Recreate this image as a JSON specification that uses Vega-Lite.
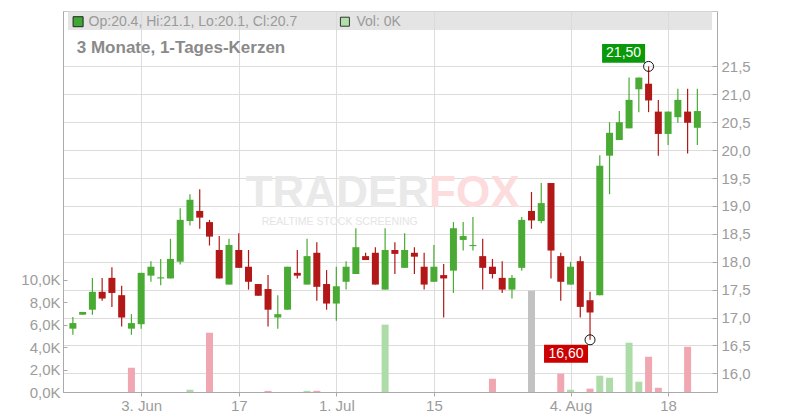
{
  "$schema": "https://vega.github.io/schema/vega-lite/v6.json",
  "width": 654,
  "height": 381,
  "autosize": "none",
  "padding": {"left": 63, "top": 11, "right": 83, "bottom": 28},
  "background": "white",
  "config": {
    "font": "Liberation Sans",
    "view": {"stroke": "#c8c8c8", "strokeWidth": 1},
    "axis": {"labelFont": "Liberation Sans", "labelFontSize": 15, "labelColor": "#9c9c9c", "domainColor": "#aaaaaa", "tickColor": "#aaaaaa", "gridColor": "#dcdcdc", "title": null}
  },
  "datasets": {
    "candles": [
      {"i":0,"o":16.80,"h":17.01,"l":16.69,"c":16.90},
      {"i":1,"o":17.05,"h":17.10,"l":17.05,"c":17.10},
      {"i":2,"o":17.14,"h":17.71,"l":17.05,"c":17.46},
      {"i":3,"o":17.46,"h":17.71,"l":17.30,"c":17.34},
      {"i":4,"o":17.71,"h":17.90,"l":17.19,"c":17.44},
      {"i":5,"o":17.40,"h":17.57,"l":16.84,"c":17.00},
      {"i":6,"o":16.80,"h":17.06,"l":16.69,"c":16.90},
      {"i":7,"o":16.88,"h":17.80,"l":16.80,"c":17.80},
      {"i":8,"o":17.75,"h":18.01,"l":17.64,"c":17.91},
      {"i":9,"o":17.70,"h":18.05,"l":17.58,"c":17.72},
      {"i":10,"o":17.70,"h":18.41,"l":17.70,"c":18.05},
      {"i":11,"o":18.00,"h":18.96,"l":17.95,"c":18.75},
      {"i":12,"o":18.73,"h":19.21,"l":18.65,"c":19.11},
      {"i":13,"o":18.91,"h":19.30,"l":18.59,"c":18.79},
      {"i":14,"o":18.71,"h":18.75,"l":18.29,"c":18.45},
      {"i":15,"o":18.21,"h":18.46,"l":17.70,"c":17.70},
      {"i":16,"o":17.59,"h":18.41,"l":17.59,"c":18.30},
      {"i":17,"o":18.21,"h":18.51,"l":17.89,"c":17.89},
      {"i":18,"o":17.91,"h":18.21,"l":17.50,"c":17.64},
      {"i":19,"o":17.60,"h":17.60,"l":17.39,"c":17.39},
      {"i":20,"o":17.51,"h":17.76,"l":16.84,"c":17.14},
      {"i":21,"o":17.00,"h":17.40,"l":16.80,"c":17.06},
      {"i":22,"o":17.14,"h":17.91,"l":17.14,"c":17.91},
      {"i":23,"o":17.80,"h":18.21,"l":17.70,"c":17.75},
      {"i":24,"o":17.59,"h":18.41,"l":17.59,"c":18.10},
      {"i":25,"o":18.16,"h":18.35,"l":17.30,"c":17.55},
      {"i":26,"o":17.60,"h":17.85,"l":17.14,"c":17.25},
      {"i":27,"o":17.25,"h":17.91,"l":16.94,"c":17.56},
      {"i":28,"o":17.64,"h":18.01,"l":17.50,"c":17.91},
      {"i":29,"o":17.78,"h":18.60,"l":17.78,"c":18.26},
      {"i":30,"o":18.10,"h":18.16,"l":18.03,"c":18.03},
      {"i":31,"o":18.16,"h":18.26,"l":17.59,"c":17.59},
      {"i":32,"o":17.50,"h":18.60,"l":17.50,"c":18.21},
      {"i":33,"o":18.21,"h":18.35,"l":17.78,"c":18.14},
      {"i":34,"o":17.89,"h":18.51,"l":17.89,"c":18.21},
      {"i":35,"o":18.16,"h":18.26,"l":17.78,"c":18.09},
      {"i":36,"o":17.91,"h":18.16,"l":17.50,"c":17.59},
      {"i":37,"o":17.64,"h":18.30,"l":17.64,"c":17.91},
      {"i":38,"o":17.76,"h":17.96,"l":17.00,"c":17.70},
      {"i":39,"o":17.84,"h":18.71,"l":17.44,"c":18.60},
      {"i":40,"o":18.39,"h":18.71,"l":18.20,"c":18.46},
      {"i":41,"o":18.28,"h":18.80,"l":18.20,"c":18.30},
      {"i":42,"o":18.10,"h":18.41,"l":17.50,"c":17.89},
      {"i":43,"o":17.91,"h":18.05,"l":17.70,"c":17.78},
      {"i":44,"o":17.71,"h":18.01,"l":17.44,"c":17.50},
      {"i":45,"o":17.50,"h":17.76,"l":17.34,"c":17.71},
      {"i":46,"o":17.89,"h":18.80,"l":17.84,"c":18.75},
      {"i":47,"o":18.91,"h":19.25,"l":18.59,"c":18.74},
      {"i":48,"o":18.73,"h":19.41,"l":18.69,"c":19.05},
      {"i":49,"o":19.41,"h":19.41,"l":17.70,"c":18.20},
      {"i":50,"o":18.10,"h":18.16,"l":17.30,"c":17.64},
      {"i":51,"o":17.59,"h":18.00,"l":17.59,"c":17.91},
      {"i":52,"o":18.01,"h":18.10,"l":17.00,"c":17.19},
      {"i":53,"o":17.31,"h":17.46,"l":16.60,"c":17.09},
      {"i":54,"o":17.40,"h":19.91,"l":17.40,"c":19.72},
      {"i":55,"o":19.90,"h":20.50,"l":19.21,"c":20.31},
      {"i":56,"o":20.18,"h":20.70,"l":20.18,"c":20.50},
      {"i":57,"o":20.39,"h":21.30,"l":20.39,"c":20.90},
      {"i":58,"o":21.09,"h":21.30,"l":20.68,"c":21.30},
      {"i":59,"o":21.19,"h":21.50,"l":20.68,"c":20.89},
      {"i":60,"o":20.69,"h":20.90,"l":19.90,"c":20.29},
      {"i":61,"o":20.29,"h":20.69,"l":20.09,"c":20.69},
      {"i":62,"o":20.59,"h":21.10,"l":20.49,"c":20.90},
      {"i":63,"o":20.69,"h":21.10,"l":19.94,"c":20.49},
      {"i":64,"o":20.40,"h":21.10,"l":20.09,"c":20.70}
    ],
    "vol": [
      {"i":6,"v":2160,"d":"down"},
      {"i":12,"v":200,"d":"up"},
      {"i":14,"v":5280,"d":"down"},
      {"i":20,"v":100,"d":"down"},
      {"i":24,"v":100,"d":"up"},
      {"i":25,"v":100,"d":"down"},
      {"i":32,"v":6000,"d":"up"},
      {"i":43,"v":1180,"d":"down"},
      {"i":47,"v":9020,"d":"flat"},
      {"i":50,"v":1630,"d":"down"},
      {"i":51,"v":200,"d":"up"},
      {"i":53,"v":300,"d":"down"},
      {"i":54,"v":1450,"d":"up"},
      {"i":55,"v":1270,"d":"up"},
      {"i":57,"v":4390,"d":"up"},
      {"i":58,"v":920,"d":"up"},
      {"i":59,"v":3140,"d":"down"},
      {"i":60,"v":380,"d":"down"},
      {"i":63,"v":4030,"d":"down"}
    ],
    "ext": [
      {"i":59,"p":21.5,"t":"21,50","k":"hi"},
      {"i":53,"p":16.6,"t":"16,60","k":"lo"}
    ]
  },
  "layer": [
    {
      "data": {"name": "vol"},
      "mark": {"type": "bar", "size": 7},
      "encoding": {
        "x": {"field": "i", "type": "quantitative", "scale": {"domain": [-0.5, 65.5], "nice": false, "zero": false},
          "axis": {"values": [7,17,27,37,51,61], "tickCount": 6, "labelExpr": "datum.value==7?'3. Jun':datum.value==17?'17':datum.value==27?'1. Jul':datum.value==37?'15':datum.value==51?'4. Aug':'18'", "grid": true, "tickSize": 4, "labelPadding": 2, "title": null}},
        "y": {"field": "v", "type": "quantitative", "scale": {"domain": [0, 33930], "nice": false, "zero": true},
          "axis": {"orient": "left", "values": [0,2000,4000,6000,8000,10000], "tickCount": 6, "labelExpr": "replace(format(datum.value/1000, '.1f'), '.', ',') + 'K'", "grid": false, "tickSize": -4, "labelPadding": 7, "title": null}},
        "color": {"field": "d", "type": "nominal", "scale": {"domain": ["up","down","flat"], "range": ["#aedca8","#f0a7b1","#c2c2c2"]}, "legend": null}
      }
    },
    {
      "layer": [
        {
          "data": {"values": [{}]},
          "mark": {"type": "rect", "color": "#dadada", "opacity": 0.72},
          "encoding": {
            "x": {"datum": -0.5, "type": "quantitative"},
            "x2": {"datum": 65.5},
            "y": {"datum": 22.152, "type": "quantitative"},
            "y2": {"datum": 22.493}
          }
        },
        {
          "data": {"values": [{}]},
          "mark": {"type": "text", "text": "TRADER", "align": "right", "baseline": "alphabetic", "fontSize": 44, "fontWeight": "bold", "color": "#e9e9e9"},
          "encoding": {"x": {"datum": 36.5, "type": "quantitative"}, "y": {"datum": 18.98, "type": "quantitative"}}
        },
        {
          "data": {"values": [{}]},
          "mark": {"type": "text", "text": "FOX", "align": "left", "baseline": "alphabetic", "fontSize": 44, "fontWeight": "bold", "color": "#fcdcdc"},
          "encoding": {"x": {"datum": 36.5, "type": "quantitative"}, "y": {"datum": 18.98, "type": "quantitative"}}
        },
        {
          "data": {"values": [{}]},
          "mark": {"type": "text", "text": "REALTIME STOCK SCREENING", "align": "center", "baseline": "middle", "fontSize": 10.5, "color": "#e4e4e4"},
          "encoding": {"x": {"datum": 27.35, "type": "quantitative"}, "y": {"datum": 18.72, "type": "quantitative"}}
        },
        {
          "data": {"values": [{}]},
          "mark": {"type": "point", "shape": "square", "size": 100, "filled": true, "fill": "#3ea832", "stroke": "#222222", "strokeWidth": 1, "opacity": 1},
          "encoding": {"x": {"datum": 0.535, "type": "quantitative"}, "y": {"datum": 22.301, "type": "quantitative"}}
        },
        {
          "data": {"values": [{}]},
          "mark": {"type": "point", "shape": "square", "size": 81, "filled": true, "fill": "#b1dfa9", "stroke": "#333333", "strokeWidth": 1, "opacity": 1},
          "encoding": {"x": {"datum": 27.88, "type": "quantitative"}, "y": {"datum": 22.301, "type": "quantitative"}}
        },
        {
          "data": {"values": [{}]},
          "mark": {"type": "text", "text": "Op:20.4, Hi:21.1, Lo:20.1, Cl:20.7", "align": "left", "baseline": "middle", "fontSize": 14, "color": "#9a9a9a"},
          "encoding": {"x": {"datum": 1.61, "type": "quantitative"}, "y": {"datum": 22.301, "type": "quantitative"}}
        },
        {
          "data": {"values": [{}]},
          "mark": {"type": "text", "text": "Vol: 0K", "align": "left", "baseline": "middle", "fontSize": 14, "color": "#9a9a9a"},
          "encoding": {"x": {"datum": 29.06, "type": "quantitative"}, "y": {"datum": 22.301, "type": "quantitative"}}
        },
        {
          "data": {"values": [{}]},
          "mark": {"type": "text", "text": "3 Monate, 1-Tages-Kerzen", "align": "left", "baseline": "middle", "fontSize": 17, "fontWeight": "bold", "color": "#8a8a8a"},
          "encoding": {"x": {"datum": 0.4, "type": "quantitative"}, "y": {"datum": 21.83, "type": "quantitative"}}
        },
        {
          "data": {"name": "candles"},
          "mark": {"type": "rule", "strokeWidth": 1.2},
          "encoding": {
            "x": {"field": "i", "type": "quantitative", "scale": {"domain": [-0.5, 65.5], "nice": false, "zero": false}},
            "y": {"field": "l", "type": "quantitative", "scale": {"domain": [15.665, 22.493], "nice": false, "zero": false},
              "axis": {"orient": "right", "values": [16,16.5,17,17.5,18,18.5,19,19.5,20,20.5,21,21.5], "tickCount": 12, "labelExpr": "replace(format(datum.value, '.1f'), '.', ',')", "grid": true, "tickSize": -5, "labelPadding": 9, "labelOverlap": false, "title": null}},
            "y2": {"field": "h"},
            "color": {"condition": {"test": "datum.c >= datum.o", "value": "#49ab33"}, "value": "#b31818"}
          }
        },
        {
          "data": {"name": "candles"},
          "mark": {"type": "bar", "size": 7},
          "encoding": {
            "x": {"field": "i", "type": "quantitative"},
            "y": {"field": "o", "type": "quantitative"},
            "y2": {"field": "c"},
            "color": {"condition": {"test": "datum.c >= datum.o", "value": "#49ab33"}, "value": "#b31818"}
          }
        },
        {
          "data": {"name": "ext"},
          "transform": [{"filter": "datum.k == 'hi'"}],
          "mark": {"type": "point", "shape": "M-1,-0.44H1V0.44H-1Z", "size": 1849, "filled": true, "fill": "#0a990a", "strokeWidth": 0, "opacity": 1, "xOffset": -25, "yOffset": -13},
          "encoding": {"x": {"field": "i", "type": "quantitative"}, "y": {"field": "p", "type": "quantitative"}}
        },
        {
          "data": {"name": "ext"},
          "transform": [{"filter": "datum.k == 'hi'"}],
          "mark": {"type": "text", "dx": -25, "dy": -13, "align": "center", "baseline": "middle", "fontSize": 14, "color": "white"},
          "encoding": {"x": {"field": "i", "type": "quantitative"}, "y": {"field": "p", "type": "quantitative"}, "text": {"field": "t"}}
        },
        {
          "data": {"name": "ext"},
          "transform": [{"filter": "datum.k == 'lo'"}],
          "mark": {"type": "point", "shape": "M-1,-0.41H1V0.41H-1Z", "size": 1936, "filled": true, "fill": "#cc0000", "strokeWidth": 0, "opacity": 1, "xOffset": -24, "yOffset": 14},
          "encoding": {"x": {"field": "i", "type": "quantitative"}, "y": {"field": "p", "type": "quantitative"}}
        },
        {
          "data": {"name": "ext"},
          "transform": [{"filter": "datum.k == 'lo'"}],
          "mark": {"type": "text", "dx": -24, "dy": 14, "align": "center", "baseline": "middle", "fontSize": 14, "color": "white"},
          "encoding": {"x": {"field": "i", "type": "quantitative"}, "y": {"field": "p", "type": "quantitative"}, "text": {"field": "t"}}
        },
        {
          "data": {"name": "ext"},
          "mark": {"type": "point", "shape": "circle", "size": 100, "filled": false, "stroke": "#111111", "strokeWidth": 1, "opacity": 1},
          "encoding": {"x": {"field": "i", "type": "quantitative"}, "y": {"field": "p", "type": "quantitative"}}
        }
      ]
    }
  ],
  "resolve": {"scale": {"y": "independent"}}
}
